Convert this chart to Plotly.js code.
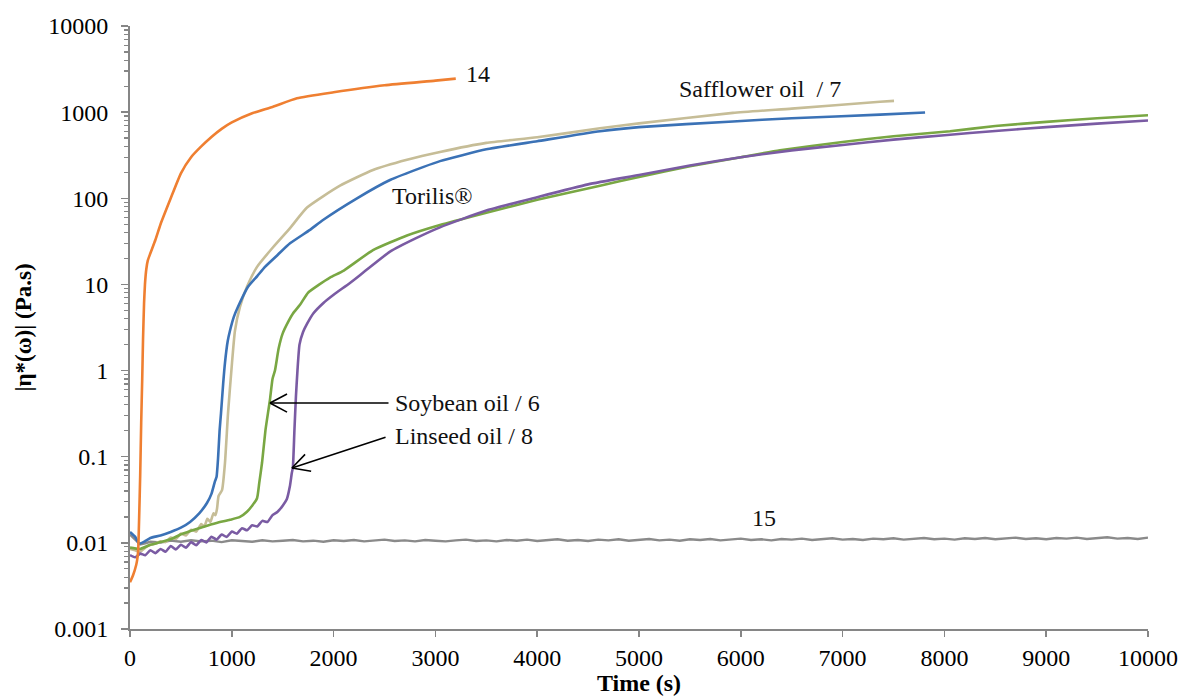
<!DOCTYPE html>
<html>
<head>
<meta charset="utf-8">
<script src="https://cdn.plot.ly/plotly-3.0.1.min.js"></script>
<style>html,body{margin:0;padding:0;background:#fff;}#chart{width:1181px;height:696px;}</style>
</head>
<body>
<div id="chart"></div>
<script>
// ---- data (time in s, |eta*| in Pa.s) ----
const orangeX = [0, 30, 60, 70, 80, 90, 100, 110, 120, 128, 138, 147, 160, 175, 200, 250, 300, 400, 500, 600, 700, 800, 900, 1000, 1200, 1400, 1640, 2000, 2500, 3000, 3200];
const orangeY = [0.0035, 0.0042, 0.0055, 0.0063, 0.008, 0.02, 0.06, 0.25, 0.8, 2.3, 6, 10, 15, 19, 23, 33, 50, 100, 195, 300, 400, 515, 640, 760, 970, 1150, 1450, 1700, 2050, 2320, 2450];

const blueX = [0, 50, 90, 150, 200, 300, 400, 500, 590, 680, 756, 800, 835, 850, 866, 880, 894, 915, 933, 960, 982, 1020, 1061, 1159, 1250, 1326, 1450, 1572, 1768, 1896, 2230, 2554, 2878, 3045, 3500, 4000, 4617, 5000, 5923, 6500, 7367, 7810];
const blueY = [0.0134, 0.0118, 0.0098, 0.0105, 0.0114, 0.0122, 0.0134, 0.015, 0.0175, 0.022, 0.029, 0.037, 0.052, 0.058, 0.1, 0.2, 0.32, 0.7, 1.23, 2.2, 2.9, 4.2, 5.5, 9.4, 12.5, 16, 22, 30, 43, 56, 100, 163, 230, 270, 370, 460, 600, 670, 780, 850, 935, 990];

const tanX = [0, 50, 100, 150, 200, 250, 300, 350, 400, 450, 500, 550, 600, 650, 700, 730, 760, 790, 820, 840, 855, 870, 904, 933, 963, 1002, 1031, 1080, 1149, 1248, 1405, 1572, 1739, 2063, 2387, 2721, 3045, 3500, 4000, 4617, 5000, 5923, 6500, 7367, 7505];
const tanY = [0.0085, 0.0082, 0.0079, 0.0088, 0.0095, 0.0098, 0.0104, 0.0102, 0.0115, 0.0111, 0.0128, 0.0122, 0.0142, 0.0135, 0.0165, 0.0155, 0.019, 0.0175, 0.022, 0.021, 0.025, 0.035, 0.041, 0.085, 0.32, 1.23, 2.9, 5.5, 9.4, 16, 27, 45, 78, 140, 213, 280, 345, 440, 510, 650, 740, 980, 1100, 1320, 1350];

const greenX = [0, 100, 200, 300, 400, 491, 600, 717, 850, 982, 1080, 1149, 1200, 1248, 1270, 1297, 1330, 1360, 1375, 1400, 1424, 1460, 1500, 1560, 1601, 1670, 1748, 1850, 1964, 2100, 2387, 2721, 3045, 3500, 4000, 4617, 5000, 5500, 6000, 6385, 7000, 7500, 8055, 8500, 9000, 9500, 10000];
const greenY = [0.0088, 0.0085, 0.0095, 0.0102, 0.011, 0.0124, 0.0138, 0.0153, 0.017, 0.0185, 0.02, 0.023, 0.027, 0.033, 0.05, 0.085, 0.2, 0.35, 0.46, 0.8, 1.0, 1.8, 2.7, 3.8, 4.6, 5.8, 8, 9.8, 12, 14.5, 25, 37, 49, 68, 96, 140, 177, 235, 300, 360, 450, 525, 600, 690, 770, 850, 920];

const purpleX = [0, 50, 100, 150, 200, 250, 300, 350, 400, 450, 500, 550, 600, 650, 700, 750, 800, 850, 900, 950, 1000, 1050, 1100, 1150, 1200, 1250, 1300, 1350, 1400, 1450, 1500, 1540, 1570, 1590, 1600, 1615, 1630, 1645, 1665, 1700, 1740, 1800, 1900, 2000, 2161, 2300, 2554, 2800, 3045, 3500, 4000, 4500, 5000, 5500, 6000, 6500, 7000, 7500, 8000, 8500, 9000, 9500, 10000];
const purpleY = [0.0072, 0.0068, 0.0075, 0.0072, 0.0082, 0.0076, 0.0085, 0.0079, 0.0092, 0.0084, 0.0095, 0.0088, 0.0102, 0.0094, 0.0108, 0.0101, 0.0118, 0.0109, 0.0125, 0.0117, 0.0135, 0.0128, 0.0148, 0.014, 0.016, 0.0155, 0.018, 0.0175, 0.021, 0.023, 0.027, 0.032, 0.045, 0.065, 0.075, 0.2, 0.5, 1.0, 2.0, 2.8, 3.5, 4.6, 6.1, 7.6, 10.4, 14, 24, 34, 46, 72, 103, 145, 186, 240, 300, 360, 415, 480, 540, 605, 670, 735, 800];

const grayX = [0, 50, 100, 150, 200, 300, 400, 500, 600, 700, 800, 900, 1000, 1100, 1200, 1300, 1400, 1500, 1600, 1700, 1800, 1900, 2000, 2100, 2200, 2300, 2400, 2500, 2600, 2700, 2800, 2900, 3000, 3100, 3200, 3300, 3400, 3500, 3600, 3700, 3800, 3900, 4000, 4100, 4200, 4300, 4400, 4500, 4600, 4700, 4800, 4900, 5000, 5100, 5200, 5300, 5400, 5500, 5600, 5700, 5800, 5900, 6000, 6100, 6200, 6300, 6400, 6500, 6600, 6700, 6800, 6900, 7000, 7100, 7200, 7300, 7400, 7500, 7600, 7700, 7800, 7900, 8000, 8100, 8200, 8300, 8400, 8500, 8600, 8700, 8800, 8900, 9000, 9100, 9200, 9300, 9400, 9500, 9600, 9700, 9800, 9900, 10000];
const grayY = [0.0125, 0.0110, 0.0096, 0.0099, 0.0103, 0.0101, 0.0106, 0.0103, 0.0107, 0.0104, 0.0106, 0.0102, 0.0107, 0.0105, 0.0103, 0.0107, 0.0104, 0.0106, 0.0108, 0.0104, 0.0106, 0.0103, 0.0107, 0.0105, 0.0108, 0.0104, 0.0106, 0.0109, 0.0105, 0.0107, 0.0104, 0.0108, 0.0106, 0.0104, 0.0107, 0.0109, 0.0105, 0.0107, 0.0104, 0.0108, 0.0106, 0.0109, 0.0105, 0.0107, 0.0110, 0.0106, 0.0108, 0.0105, 0.0109, 0.0107, 0.0110, 0.0106, 0.0108, 0.0111, 0.0107, 0.0109, 0.0106, 0.0110, 0.0108, 0.0111, 0.0107, 0.0109, 0.0112, 0.0108, 0.0110, 0.0107, 0.0111, 0.0109, 0.0112, 0.0108, 0.0110, 0.0113, 0.0109, 0.0111, 0.0108, 0.0112, 0.0110, 0.0113, 0.0109, 0.0111, 0.0114, 0.0110, 0.0112, 0.0109, 0.0113, 0.0111, 0.0114, 0.0110, 0.0112, 0.0115, 0.0111, 0.0113, 0.0110, 0.0114, 0.0112, 0.0115, 0.0111, 0.0113, 0.0116, 0.0112, 0.0114, 0.0111, 0.0115];

const xTickVals = [0, 1000, 2000, 3000, 4000, 5000, 6000, 7000, 8000, 9000, 10000];
const xTickText = ['0', '1000', '2000', '3000', '4000', '5000', '6000', '7000', '8000', '9000', '10000'];
const yTickVals = [0.001, 0.01, 0.1, 1, 10, 100, 1000, 10000];
const yTickText = ['0.001', '0.01', '0.1', '1', '10', '100', '1000', '10000'];

// ---- styling ----
const FONT = 'Liberation Serif, Times New Roman, serif';
const AX = '#868686';
const W = 1181, H = 696, M = {l: 130, r: 33, t: 26, b: 67};
const PW = W - M.l - M.r, PH = H - M.t - M.b;
const XR = [0, 10000], YR = [-3, 4];

function line(x, y, color, w, smooth) {
  const ln = {color: color, width: w || 2.6};
  if (smooth) { ln.shape = 'spline'; ln.smoothing = 0.5; }
  return {x: x, y: y, type: 'scatter', mode: 'lines', line: ln, hoverinfo: 'skip'};
}
const traces = [
  line(grayX, grayY, '#8a8a8a', 2.4, false),
  line(tanX, tanY, '#c6bd97', 2.6, true),
  line(blueX, blueY, '#3b72b6', 2.6, true),
  line(greenX, greenY, '#79a743', 2.6, true),
  line(purpleX, purpleY, '#7a5ba3', 2.6, true),
  line(orangeX, orangeY, '#ef7f31', 2.6, true)
];

// minor ticks: 2..9 within each decade
const minorVals = [];
for (let i = 0; i < yTickVals.length - 1; i++) for (let k = 2; k <= 9; k++) minorVals.push(yTickVals[i] * k);

const L = Math.log10;
function lbl(x, y, text) {
  return {x: x, y: L(y), xref: 'x', yref: 'y', text: text, showarrow: false, xanchor: 'left', yanchor: 'middle',
          font: {family: FONT, size: 24, color: '#111'}};
}
// arrow: thin shaft plus two thin barbs at the tip
function arrow(tipX, tipY, tailX, tailY) {
  const out = [{x: tipX, y: L(tipY), ax: tailX, ay: L(tailY), xref: 'x', yref: 'y', axref: 'x', ayref: 'y', text: '',
                showarrow: true, arrowhead: 0, arrowwidth: 1.6, arrowcolor: '#000', standoff: 0}];
  const dx = (tailX - tipX) / (XR[1] - XR[0]) * PW;
  const dy = -(L(tailY) - L(tipY)) / (YR[1] - YR[0]) * PH;
  const th = Math.atan2(dy, dx), a = 28 * Math.PI / 180, len = 21;
  [th + a, th - a].forEach(function (t) {
    out.push({x: tipX, y: L(tipY), xref: 'x', yref: 'y', ax: len * Math.cos(t), ay: len * Math.sin(t), text: '',
              showarrow: true, arrowhead: 0, arrowwidth: 1.6, arrowcolor: '#000', standoff: 0});
  });
  return out;
}
const annotations = [
  lbl(3281, 2750, '14'),
  lbl(5373, 1870, 'Safflower oil  / 7'),
  lbl(2554, 107, 'Torilis®'),
  lbl(2583, 0.42, 'Soybean oil / 6'),
  lbl(2583, 0.174, 'Linseed oil / 8'),
  lbl(6090, 0.0195, '15')
].concat(arrow(1375, 0.42, 2554, 0.42), arrow(1591, 0.074, 2525, 0.17));

const layout = {
  width: W, height: H,
  margin: M,
  paper_bgcolor: '#fff', plot_bgcolor: '#fff',
  showlegend: false,
  font: {family: FONT, size: 24, color: '#000'},
  xaxis: {
    range: XR, tickmode: 'array', tickvals: xTickVals, ticktext: xTickText, ticks: 'outside', ticklen: 6, tickwidth: 1.5, tickcolor: AX,
    showline: true, linecolor: AX, linewidth: 2, showgrid: false, zeroline: false,
    tickfont: {family: FONT, size: 24, color: '#000'},
    title: {text: '<b>Time (s)</b>', font: {family: FONT, size: 24, color: '#000'}, standoff: 2}
  },
  yaxis: {
    type: 'log', range: YR, tickmode: 'array', tickvals: yTickVals, ticktext: yTickText,
    ticks: 'outside', ticklen: 7, tickwidth: 1.5, tickcolor: AX, ticklabelstandoff: 8,
    showline: true, linecolor: AX, linewidth: 2, showgrid: false, zeroline: false,
    tickfont: {family: FONT, size: 24, color: '#000'},
    minor: {tickmode: 'array', tickvals: minorVals, ticks: 'outside', ticklen: 4, tickwidth: 1.2, tickcolor: AX, showgrid: false},
    title: {text: '<b>|η*(ω)| (Pa.s)</b>', font: {family: FONT, size: 23, color: '#000'}, standoff: 10}
  },
  annotations: annotations
};

Plotly.newPlot('chart', traces, layout, {staticPlot: true, displayModeBar: false});
</script>
</body>
</html>
